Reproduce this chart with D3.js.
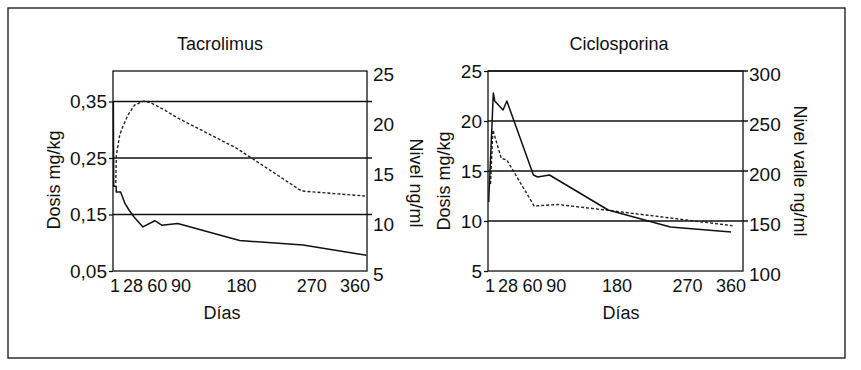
<!DOCTYPE html>
<html>
<head>
<meta charset="utf-8">
<script src="https://cdn.jsdelivr.net/npm/d3@7"></script>
<style>
  html, body { margin: 0; padding: 0; background: #fff; }
  svg text { font-family: "Liberation Sans", Arial, Helvetica, sans-serif; fill: #111; }
</style>
</head>
<body>
<div id="chart"></div>
<script>
(function () {

    var W = 861, H = 370;

    // x axis labels as printed, and where the source placed them (in days)
    var dayTicks   = [1, 28, 60, 90, 180, 270, 360];
    var dayTickAt  = [2, 28, 63, 97, 184, 285, 347];

    // Tacrolimus: dose (mg/kg, left) and trough level (ng/ml, right)
    var tacDoseDays  = [0.5, 1, 4.5, 4.6, 11, 17, 23, 30, 43, 60, 70, 93, 182, 273, 364];
    var tacDose      = [0.35, 0.20, 0.20, 0.19, 0.19, 0.17, 0.158, 0.146, 0.128, 0.139, 0.131, 0.134, 0.104, 0.096, 0.078];
    var tacLevelDays = [4, 4.7, 9.6, 14.4, 21.6, 31, 44.5, 55, 74, 93, 177, 271, 362];
    var tacLevel     = [13.8, 16.5, 18.6, 19.5, 20.6, 21.6, 22.0, 21.8, 21.1, 20.3, 17.3, 13.0, 12.5];
    var tacDoseTicks  = [0.05, 0.15, 0.25, 0.35];
    var tacLevelTicks = [5, 10, 15, 20, 25];

    // Ciclosporina: dose (mg/kg, left) and trough level (ng/ml, right)
    var cycDoseDays  = [1, 7.6, 9.6, 21.5, 27, 65, 71, 88, 172, 261, 348];
    var cycDose      = [11.9, 22.8, 22.0, 21.1, 22.0, 14.6, 14.4, 14.6, 11.1, 9.4, 8.9];
    var cycLevelDays = [3.6, 7, 19, 27, 66, 100, 172, 350];
    var cycLevel     = [187, 241, 212.7, 211, 165, 166.5, 160.7, 145.3];
    var cycDoseTicks  = [5, 10, 15, 20, 25];
    var cycLevelTicks = [100, 150, 200, 250, 300];

    var svg = d3.select("#chart").append("svg")
        .attr("width", W).attr("height", H);

    svg.append("rect").attr("width", W).attr("height", H).attr("fill", "#fff");

    // outer frame
    svg.append("rect")
        .attr("x", 8).attr("y", 8)
        .attr("width", 837).attr("height", 350)
        .attr("fill", "none")
        .attr("stroke", "#111")
        .attr("stroke-width", 1.3);

    function zip(xs, ys) {
        return xs.map(function (d, i) { return { day: d, v: ys[i] }; });
    }

    function panel(o) {
        var g = svg.append("g");
        var top = 71, bottom = 271;

        var x  = d3.scaleLinear().domain([0, 365]).range([o.x0, o.x1]);
        var yL = d3.scaleLinear().domain(o.leftDomain).range([bottom, top]);
        var yR = d3.scaleLinear().domain(o.rightDomain).range([bottom, top]);

        // horizontal reference lines at the inner left ticks
        g.selectAll(".grid").data(o.leftTicks.filter(function (t) { return t > o.leftDomain[0]; }))
            .enter().append("line")
            .attr("x1", o.x0).attr("x2", o.x1 + 5)
            .attr("y1", function (d) { return yL(d); })
            .attr("y2", function (d) { return yL(d); })
            .attr("stroke", "#111").attr("stroke-width", 1.3);

        // box
        g.append("rect")
            .attr("x", o.x0).attr("y", top)
            .attr("width", o.x1 - o.x0).attr("height", bottom - top)
            .attr("fill", "none").attr("stroke", "#111").attr("stroke-width", 1.3);

        // axes
        var ax = g.append("g").attr("transform", "translate(" + o.x0 + ",0)")
            .call(d3.axisLeft(yL).tickValues(o.leftTicks).tickSize(4).tickPadding(2)
                .tickFormat(o.leftFmt));
        var axR = g.append("g").attr("transform", "translate(" + o.x1 + ",0)")
            .call(d3.axisRight(yR).tickValues(o.rightTicks).tickSize(0).tickPadding(6));
        axR.selectAll("text").attr("dy", "0.5em");
        var axB = g.append("g").attr("transform", "translate(0," + bottom + ")")
            .call(d3.axisBottom(x).tickValues(dayTickAt).tickSize(0).tickPadding(8)
                .tickFormat(function (d, i) { return dayTicks[i]; }));

        [ax, axR, axB].forEach(function (a) {
            a.select(".domain").remove();
            a.selectAll("line").attr("stroke", "#111").attr("stroke-width", 1.3);
            a.selectAll("text")
                .style("font-family", "'Liberation Sans', Arial, sans-serif")
                .style("font-size", "19px")
                .attr("fill", "#111");
        });
        axB.selectAll("text").style("font-size", "18px");

        // lines
        var line = function (ys) {
            return d3.line().x(function (d) { return x(d.day); })
                .y(function (d) { return ys(d.v); });
        };

        g.append("path")
            .datum(zip(o.levelDays, o.level))
            .attr("fill", "none")
            .attr("stroke", "#222")
            .attr("stroke-width", 1.4)
            .attr("stroke-dasharray", "3,2")
            .attr("d", line(yR));

        g.append("path")
            .datum(zip(o.doseDays, o.dose))
            .attr("fill", "none")
            .attr("stroke", "#111")
            .attr("stroke-width", 1.5)
            .attr("stroke-linejoin", "round")
            .attr("d", line(yL));

        // titles
        g.append("text")
            .attr("x", o.titleX).attr("y", 50)
            .attr("text-anchor", "middle")
            .style("font-size", "18px")
            .text(o.title);

        g.append("text")
            .attr("x", o.titleX + 2).attr("y", 319)
            .attr("text-anchor", "middle")
            .style("font-size", "18px")
            .text("Días");

        g.append("text")
            .attr("transform", "translate(" + o.leftLabelX + "," + o.leftLabelY + ") rotate(-90)")
            .attr("text-anchor", "middle")
            .style("font-size", "18px")
            .text("Dosis mg/kg");

        g.append("text")
            .attr("transform", "translate(" + o.rightLabelX + "," + o.rightLabelY + ") rotate(90)")
            .attr("text-anchor", "middle")
            .style("font-size", "18px")
            .text(o.rightLabel);
    }

    var comma = function (d) { return d3.format(".2f")(d).replace(".", ","); };

    panel({
        x0: 113, x1: 367,
        leftDomain: [0.05, 0.404], rightDomain: [5, 25],
        leftTicks: tacDoseTicks, rightTicks: tacLevelTicks, leftFmt: comma,
        doseDays: tacDoseDays, dose: tacDose,
        levelDays: tacLevelDays, level: tacLevel,
        title: "Tacrolimus", titleX: 220,
        leftLabelX: 60, leftLabelY: 180,
        rightLabel: "Nivel ng/ml", rightLabelX: 410, rightLabelY: 183
    });

    panel({
        x0: 488, x1: 743,
        leftDomain: [5, 25], rightDomain: [100, 300],
        leftTicks: cycDoseTicks, rightTicks: cycLevelTicks, leftFmt: d3.format("d"),
        doseDays: cycDoseDays, dose: cycDose,
        levelDays: cycLevelDays, level: cycLevel,
        title: "Ciclosporina", titleX: 619,
        leftLabelX: 450, leftLabelY: 181,
        rightLabel: "Nivel valle ng/ml", rightLabelX: 794, rightLabelY: 171
    });

}());
</script>
</body>
</html>
